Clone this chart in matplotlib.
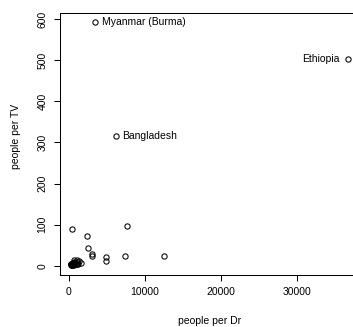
import matplotlib
matplotlib.use("Agg")
import matplotlib.pyplot as plt

plt.rcParams['font.family'] = ['Liberation Sans', 'DejaVu Sans']

# television / physicians data (countries with missing TV counts left out)
countries = ["Argentina", "Bangladesh", "Brazil", "Canada", "China", "Colombia",
             "Egypt", "Ethiopia", "France", "Germany", "India", "Indonesia",
             "Iran", "Italy", "Japan", "Kenya", "Korea, North", "Korea, South",
             "Mexico", "Morocco", "Myanmar (Burma)", "Pakistan", "Peru",
             "Philippines", "Poland", "Romania", "Russia", "South Africa",
             "Spain", "Sudan", "Taiwan", "Thailand", "Turkey", "Ukraine",
             "United Kingdom", "United States", "Venezuela", "Vietnam"]
people_per_tv = [4.0, 315, 4.0, 1.7, 8.0, 5.6, 15, 503, 2.6, 2.6, 44, 24,
                 23, 3.8, 1.8, 96, 90, 4.9, 6.6, 21, 592, 73, 14, 8.8, 3.9,
                 6, 3.2, 11, 2.6, 23, 3.2, 11, 5, 3, 3, 1.3, 5.6, 29]
people_per_dr = [370, 6166, 684, 449, 643, 1551, 616, 36660, 403, 346, 2471,
                 7427, 2992, 233, 609, 7615, 370, 1066, 600, 4873, 3485, 2364,
                 1016, 1062, 480, 559, 259, 1340, 275, 12550, 965, 4883, 1189,
                 226, 611, 404, 576, 3096]

labelled = {"Myanmar (Burma)": "right", "Bangladesh": "right", "Ethiopia": "left"}

fig = plt.figure(figsize=(3.53, 3.27), dpi=100)
# plot region runs past the right edge of the picture (cropped R plot)
ax = fig.add_axes([0.1688, 0.1593, 0.8473, 0.8018])

ax.plot(people_per_dr, people_per_tv, linestyle='none', marker='o',
        markersize=3.8, markerfacecolor='none', markeredgecolor='black',
        markeredgewidth=0.75)

for name, x, y in zip(countries, people_per_dr, people_per_tv):
    if name in labelled:
        side = labelled[name]
        dx = 4.5 if side == "right" else -5.5
        ax.annotate(name, (x, y), xytext=(dx, 0), textcoords='offset points',
                    ha='left' if side == "right" else 'right', va='center',
                    fontsize=7.5)

# R-style 4% padding on both axes
xr = max(people_per_dr) - min(people_per_dr)
yr = max(people_per_tv) - min(people_per_tv)
ax.set_xlim(min(people_per_dr) - 0.04 * xr, max(people_per_dr) + 0.04 * xr)
ax.set_ylim(min(people_per_tv) - 0.04 * yr, max(people_per_tv) + 0.04 * yr)

ax.set_xticks([0, 10000, 20000, 30000])
ax.set_yticks([0, 100, 200, 300, 400, 500, 600])
ax.tick_params(direction='out', length=4.3, width=0.75, labelsize=7.5, pad=4.5)
for lab in ax.get_yticklabels():
    lab.set_rotation(90)
    lab.set_va('center')

for sp in ax.spines.values():
    sp.set_linewidth(0.75)

ax.set_xlabel("people per Dr", fontsize=7.5, va='center')
ax.set_ylabel("people per TV", fontsize=7.5, va='center')
ax.xaxis.set_label_coords(0.5, -0.1747)
ax.yaxis.set_label_coords(-0.1458, 0.527)

fig.savefig("out.png", dpi=100)
